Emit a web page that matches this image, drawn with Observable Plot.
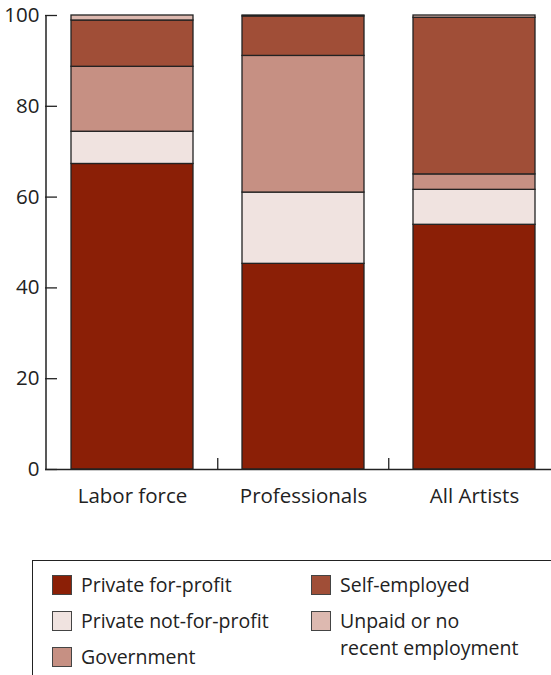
<!DOCTYPE html>
<html><head><meta charset="utf-8">
<script src="https://cdn.jsdelivr.net/npm/d3@7"></script>
<script src="https://cdn.jsdelivr.net/npm/@observablehq/plot@0.6"></script>
<style>
body{margin:0;background:#fff;font-family:"Open Sans",sans-serif;}
#wrap{position:relative;width:551px;height:675px;overflow:hidden;background:#fff;}
#chart{position:absolute;left:0;top:0;}
#legend{position:absolute;left:32px;top:560px;width:540px;height:130px;border-top:1.3px solid #222;border-left:1.3px solid #222;}
.item{position:absolute;display:flex;align-items:flex-start;font-size:19.5px;color:#222;line-height:27px;white-space:nowrap;}
.sw{width:20px;height:20px;border:1px solid #444;box-sizing:border-box;margin-top:4px;margin-right:9px;flex:none;}
</style>
</head><body>
<div id="wrap"><div id="chart"></div><div id="legend"></div></div>
<script>
const categories = ["Labor force", "Professionals", "All Artists"];
const series = ["Private for-profit", "Private not-for-profit", "Government", "Self-employed", "Unpaid or no recent employment"];
const privateForProfit = [67.3, 45.3, 53.9];
const privateNotForProfit = [7.1, 15.7, 7.7];
const government = [14.3, 30.1, 3.4];
const selfEmployed = [10.2, 8.7, 34.5];
const unpaid = [1.1, 0.2, 0.5];
const yTicks = [0, 20, 40, 60, 80, 100];
const legendLabels = ["Private for-profit", "Private not-for-profit", "Government", "Self-employed", "Unpaid or no<br>recent employment"];

const colors = ["#8b1f06", "#f0e3e0", "#c69083", "#a04e37", "#ddb9b0"];
const valuesBySeries = [privateForProfit, privateNotForProfit, government, selfEmployed, unpaid];
const data = [];
series.forEach((s, i) => categories.forEach((c, j) => data.push({series: s, category: c, value: valuesBySeries[i][j]})));

const chart = Plot.plot({
  width: 551, height: 530,
  marginLeft: 45, marginRight: 0, marginTop: 15, marginBottom: 61,
  style: {fontFamily: "Open Sans", fontSize: "20.5px", color: "#222", background: "white"},
  x: {domain: categories, range: [44, 561.5], paddingInner: 0.2857, paddingOuter: 0.1516, label: null},
  y: {domain: [0, 100], label: null},
  color: {domain: series, range: colors},
  marks: [
    Plot.barY(data, {x: "category", y: "value", fill: "series", stroke: "#222", strokeWidth: 1.3}),
    Plot.ruleY([0], {stroke: "#222", strokeWidth: 1.5}),
    Plot.ruleX([categories[0]], {x: d => d, dx: -86.5, y1: yTicks[0], y2: yTicks[yTicks.length - 1], stroke: "#222", strokeWidth: 1.5}),
    Plot.axisY({ticks: yTicks, tickSize: 0, tickPadding: 6, label: null}),
    Plot.tickY(yTicks, {y: d => d, insetRight: 506 - 12, stroke: "#222", strokeWidth: 1.3}),
    Plot.axisX({tickSize: 0, tickPadding: 19, label: null}),
    Plot.tickX(categories.slice(1), {x: d => d, dx: -85.75, insetTop: 454 - 11, stroke: "#222", strokeWidth: 1.3})
  ]
});
document.getElementById("chart").appendChild(chart);

const legend = document.getElementById("legend");
series.forEach((s, i) => {
  const col = Math.floor(i / 3), row = i % 3;
  const item = document.createElement("div");
  item.className = "item";
  item.style.left = (col === 0 ? 19 : 278) + "px";
  item.style.top = (10 + row * 36) + "px";
  item.innerHTML = `<div class="sw" style="background:${colors[i]}"></div><div>${legendLabels[i]}</div>`;
  legend.appendChild(item);
});
</script>
</body></html>
